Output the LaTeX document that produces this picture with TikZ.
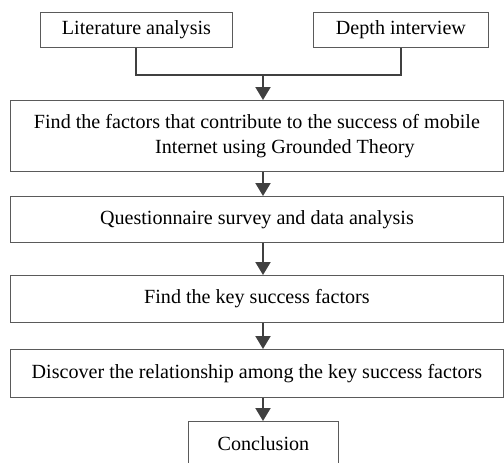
\documentclass[tikz,border=0pt]{standalone}
\usepackage{fontspec}
\setmainfont{Liberation Serif}
\usetikzlibrary{arrows.meta}
\definecolor{boxline}{HTML}{5A5A5A}
\definecolor{arrline}{HTML}{404040}
\tikzset{
  box/.style={draw=boxline, line width=0.9pt, inner sep=0pt, anchor=north west, font=\fontsize{20.1}{25}\selectfont, align=center},
  conn/.style={draw=arrline, line width=2pt},
  arr/.style={conn, -{Triangle[length=13pt, width=15pt]}}
}
\begin{document}
\begin{tikzpicture}[x=1pt, y=-1pt]
\useasboundingbox (0,0) rectangle (504,463);
\node[box, minimum width=192pt, minimum height=35pt] (lit) at (40,12) {Literature analysis};
\node[box, minimum width=175pt, minimum height=35pt] (dep) at (313,12) {Depth interview};
\node[box, minimum width=493pt, minimum height=71pt] (b1) at (10,100) {Find the factors that contribute to the success of mobile\\\hspace*{56pt}Internet using Grounded Theory};
\node[box, minimum width=493pt, minimum height=46pt] (b2) at (10,196) {Questionnaire survey and data analysis};
\node[box, minimum width=493pt, minimum height=47pt] (b3) at (10,275) {Find the key success factors};
\node[box, minimum width=493pt, minimum height=48pt] (b4) at (10,349) {Discover the relationship among the key success factors};
\node[box, minimum width=150pt, minimum height=45pt] (con) at (188,421) {Conclusion};
\coordinate (m) at (263,0);
\coordinate (j) at (263,75);
\draw[conn] (lit.south) |- (j) -| (dep.south);
\draw[arr] (j) -- (b1.north -| m);
\draw[arr] (b1.south -| m) -- (b2.north -| m);
\draw[arr] (b2.south -| m) -- (b3.north -| m);
\draw[arr] (b3.south -| m) -- (b4.north -| m);
\draw[arr] (b4.south -| m) -- (con.north -| m);
\end{tikzpicture}
\end{document}
